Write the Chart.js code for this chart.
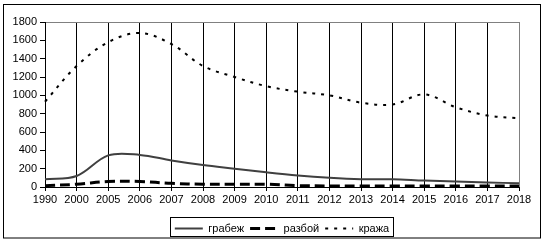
<!DOCTYPE html>
<html>
<head>
<meta charset="utf-8">
<script src="https://cdn.jsdelivr.net/npm/chart.js@4.4.0/dist/chart.umd.min.js"></script>
<style>
  html, body { margin: 0; padding: 0; background: #fff; }
  #wrap { width: 546px; height: 244px; }
</style>
</head>
<body>
<div id="wrap"><canvas id="crimes"></canvas></div>
<script>
let years = ['1990', '2000', '2005', '2006', '2007', '2008', '2009', '2010',
    '2011', '2012', '2013', '2014', '2015', '2016', '2017', '2018'];

// грабеж
let robbery = [85, 120, 345, 350, 290, 240, 200, 160, 125, 100, 85, 85, 70, 60, 50, 40];

// разбой
let assault = [15, 30, 60, 60, 40, 30, 30, 30, 15, 12, 12, 12, 10, 10, 10, 10];

// кража
let theft = [930, 1320, 1580, 1680, 1560, 1320, 1200, 1100, 1040, 1000, 920, 900, 1010, 870, 780, 750];

let yTicks = [0, 200, 400, 600, 800, 1000, 1200, 1400, 1600, 1800];

Chart.defaults.font.family = '"Liberation Sans", Arial, sans-serif';
Chart.defaults.font.size = 11;
Chart.defaults.color = '#000';

// outer frame and box round the legend
const frame = {
    id: 'frame',
    afterDraw(chart) {
        const ctx = chart.ctx;
        ctx.save();
        ctx.strokeStyle = '#000';
        ctx.lineWidth = 1;
        ctx.setLineDash([]);
        ctx.strokeRect(3.5, 4.5, 537, 233.5);

        const hb = chart.legend.legendHitBoxes;
        if (hb && hb.length) {
            const left = Math.round(hb[0].left) - 4.5;
            const last = hb[hb.length - 1];
            const right = Math.round(last.left + last.width) + 4.5;
            const mid = hb[0].top + hb[0].height / 2;
            ctx.strokeRect(left, Math.round(mid - 10.5) - 0.5, right - left, 19);
        }
        ctx.restore();
    }
};

const config = {
    type: 'line',
    data: {
        labels: years,
        datasets: [{
            label: 'грабеж',
            data: robbery,
            borderColor: '#404040',
            borderWidth: 2,
            tension: 0.35,
            pointRadius: 0
        }, {
            label: 'разбой',
            data: assault,
            borderColor: '#000',
            borderWidth: 3,
            borderDash: [10, 5],
            tension: 0.35,
            pointRadius: 0
        }, {
            label: 'кража',
            data: theft,
            borderColor: '#000',
            borderWidth: 2,
            borderDash: [3, 6],
            tension: 0.35,
            pointRadius: 0
        }]
    },
    options: {
        responsive: false,
        animation: false,
        layout: {
            padding: { left: 0, right: 27, top: 22, bottom: 0 }
        },
        scales: {
            x: {
                offset: false,
                grid: {
                    color: (c) => c.index === years.length - 1 ? '#808080' : '#000',
                    tickColor: '#000',
                    tickLength: 4,
                    drawOnChartArea: true
                },
                border: { color: '#000' },
                ticks: { autoSkip: false, maxRotation: 0, padding: 2 },
                afterFit(scale) { scale.height = 30; }
            },
            y: {
                min: 0,
                max: 1800,
                afterBuildTicks(scale) {
                    scale.ticks = yTicks.map(v => ({ value: v }));
                },
                grid: {
                    color: (c) => c.tick && c.tick.value === 1800 ? '#808080' : 'rgba(0,0,0,0)',
                    tickColor: '#000',
                    tickLength: 5
                },
                border: { color: '#000' },
                ticks: {
                    padding: 3,
                    callback: (v) => String(v)
                },
                afterFit(scale) { scale.width = 45; }
            }
        },
        plugins: {
            legend: {
                position: 'bottom',
                fullSize: false,
                labels: {
                    usePointStyle: true,
                    pointStyle: 'line',
                    pointStyleWidth: 28,
                    padding: 6,
                    color: '#000',
                    generateLabels(chart) {
                        const items = Chart.defaults.plugins.legend.labels.generateLabels(chart);
                        items.forEach((item) => {
                            const ds = chart.data.datasets[item.datasetIndex];
                            item.lineDash = ds.borderDash || [];
                            item.lineWidth = ds.borderWidth;
                            item.strokeStyle = ds.borderColor;
                        });
                        return items;
                    }
                }
            },
            tooltip: { enabled: false }
        }
    },
    plugins: [frame]
};

const canvas = document.getElementById('crimes');
canvas.width = 546;
canvas.height = 244;
const chart = new Chart(canvas, config);
</script>
</body>
</html>
